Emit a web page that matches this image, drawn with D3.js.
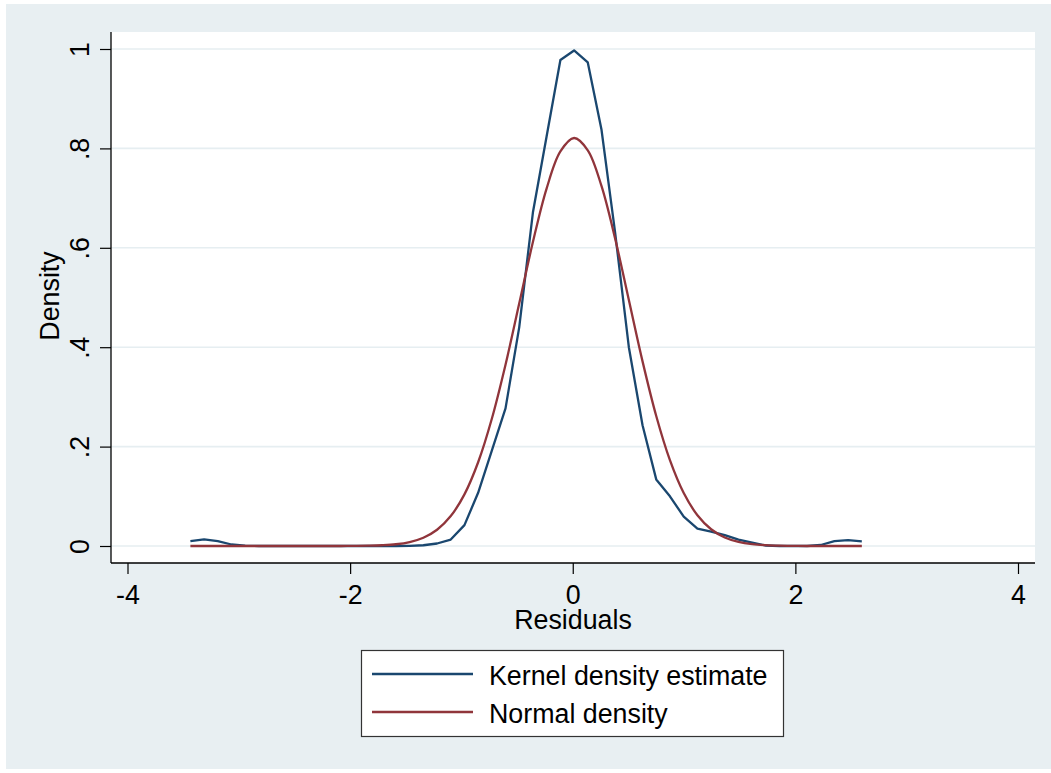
<!DOCTYPE html>
<html>
<head>
<meta charset="utf-8">
<script src="https://cdn.jsdelivr.net/npm/d3@7"></script>
<style>
  body { margin: 0; background: #fff; }
  text { font-family: "Liberation Sans", Arial, sans-serif; fill: #000; }
</style>
</head>
<body>
<script>
// evaluation points of the kernel estimate (residuals)
const gridX = [-3.435, -3.312, -3.189, -3.066, -2.943, -2.820, -2.696, -2.573, -2.450, -2.327,
               -2.204, -2.081, -1.958, -1.835, -1.712, -1.589, -1.465, -1.342, -1.219, -1.096,
               -0.973, -0.850, -0.727, -0.604, -0.481, -0.358, -0.235, -0.111, 0.012, 0.135,
               0.258, 0.381, 0.504, 0.627, 0.750, 0.873, 0.997, 1.120, 1.243, 1.366,
               1.489, 1.612, 1.735, 1.858, 1.981, 2.104, 2.228, 2.351, 2.474, 2.597];

const kernelY = [0.010, 0.0135, 0.010, 0.003, 0.0005, 0, 0, 0, 0, 0,
                 0, 0, 0, 0, 0, 0, 0.0003, 0.0015, 0.005, 0.013,
                 0.042, 0.107, 0.192, 0.277, 0.440, 0.671, 0.824, 0.978, 0.997, 0.973,
                 0.838, 0.630, 0.400, 0.243, 0.134, 0.100, 0.059, 0.035, 0.029, 0.022,
                 0.013, 0.007, 0.001, 0, 0, 0, 0.002, 0.010, 0.012, 0.0095];

const normalY = [0, 0, 0, 0, 0, 0, 0, 0, 0, 0,
                 0, 0, 0.0002, 0.0006, 0.0015, 0.0035, 0.0080, 0.0167, 0.0327, 0.0602,
                 0.1039, 0.1685, 0.2560, 0.3648, 0.4877, 0.6115, 0.7192, 0.7938, 0.8209, 0.7962,
                 0.7244, 0.6182, 0.4949, 0.3715, 0.2616, 0.1728, 0.1066, 0.0619, 0.0337, 0.0172,
                 0.0083, 0.0037, 0.0016, 0.0006, 0.0002, 0, 0, 0, 0, 0];

const xTicks = [-4, -2, 0, 2, 4];
const yTicks = [0, 0.2, 0.4, 0.6, 0.8, 1];
const yTickLabels = ["0", ".2", ".4", ".6", ".8", "1"];
const seriesNames = ["Kernel density estimate", "Normal density"];
const seriesColors = ["#1a476f", "#90353b"];

const width = 1051, height = 773;
const plot = {left: 111, right: 1035, top: 32, bottom: 563};
const fontSize = 26.8;

const svg = d3.select("body").append("svg")
    .attr("width", width)
    .attr("height", height);

// outer graph region
svg.append("rect")
    .attr("x", 6).attr("y", 4)
    .attr("width", width - 6).attr("height", height - 8)
    .attr("fill", "#e8eff2");

// plot region
svg.append("rect")
    .attr("x", plot.left).attr("y", plot.top)
    .attr("width", plot.right - plot.left).attr("height", plot.bottom - plot.top)
    .attr("fill", "#fff");

const x = d3.scaleLinear()
    .domain([-4, 4])
    .range([127.5, 1018]);

const y = d3.scaleLinear()
    .domain([0, 1])
    .range([546, 49]);

// gridlines
svg.append("g")
  .selectAll("line")
  .data(yTicks)
  .join("line")
    .attr("x1", plot.left)
    .attr("x2", plot.right)
    .attr("y1", d => y(d))
    .attr("y2", d => y(d))
    .attr("stroke", "#e6eef1")
    .attr("stroke-width", 1.6);

// y axis
const yAxis = svg.append("g")
    .attr("transform", `translate(${plot.left},0)`)
    .call(d3.axisLeft(y).tickValues(yTicks).tickSize(11).tickFormat((d, i) => yTickLabels[i]));
yAxis.select(".domain").attr("d", `M0,${plot.top}V${plot.bottom}`).attr("stroke", "#000").attr("stroke-width", 1.3);
yAxis.selectAll(".tick line").attr("stroke", "#000").attr("stroke-width", 1.2);
yAxis.selectAll(".tick text")
    .attr("x", null).attr("dy", null)
    .attr("text-anchor", "middle")
    .attr("transform", "translate(-22,0) rotate(-90)")
    .style("font-size", fontSize + "px")
    .style("font-family", "'Liberation Sans', Arial, sans-serif");

// x axis
const xAxis = svg.append("g")
    .attr("transform", `translate(0,${plot.bottom})`)
    .call(d3.axisBottom(x).tickValues(xTicks).tickSize(11).tickFormat(d3.format("d")));
xAxis.select(".domain").attr("d", `M${plot.left},0H${plot.right}`).attr("stroke", "#000").attr("stroke-width", 1.3);
xAxis.selectAll(".tick line").attr("stroke", "#000").attr("stroke-width", 1.2);
xAxis.selectAll(".tick text")
    .attr("y", 41).attr("dy", null)
    .text(d => d < 0 ? "-" + Math.abs(d) : d)
    .style("font-size", fontSize + "px")
    .style("font-family", "'Liberation Sans', Arial, sans-serif");

// axis titles
svg.append("text")
    .attr("x", 573)
    .attr("y", 629)
    .attr("text-anchor", "middle")
    .style("font-size", fontSize + "px")
    .text("Residuals");

svg.append("text")
    .attr("transform", "translate(59,296) rotate(-90)")
    .attr("text-anchor", "middle")
    .style("font-size", fontSize + "px")
    .text("Density");

// curves
const kernelLine = d3.line()
    .x((d, i) => x(gridX[i]))
    .y(d => y(d));

const normalLine = d3.line()
    .x((d, i) => x(gridX[i]))
    .y(d => y(d))
    .curve(d3.curveCatmullRom);

svg.append("path")
    .datum(kernelY)
    .attr("d", kernelLine)
    .attr("fill", "none")
    .attr("stroke", seriesColors[0])
    .attr("stroke-width", 2.3)
    .attr("stroke-linejoin", "round");

svg.append("path")
    .datum(normalY)
    .attr("d", normalLine)
    .attr("fill", "none")
    .attr("stroke", seriesColors[1])
    .attr("stroke-width", 2.3);

// legend
const legend = svg.append("g");
legend.append("rect")
    .attr("x", 361.5).attr("y", 650.5)
    .attr("width", 422).attr("height", 86)
    .attr("fill", "#fff")
    .attr("stroke", "#333")
    .attr("stroke-width", 1.2);

const item = legend.selectAll("g.item")
  .data(seriesNames)
  .join("g")
    .attr("class", "item")
    .attr("transform", (d, i) => `translate(0,${674 + i * 38})`);

item.append("line")
    .attr("x1", 372).attr("x2", 473)
    .attr("stroke", (d, i) => seriesColors[i])
    .attr("stroke-width", 2.3);

item.append("text")
    .attr("x", 489)
    .attr("y", 10.5)
    .style("font-size", fontSize + "px")
    .text(d => d);
</script>
</body>
</html>
